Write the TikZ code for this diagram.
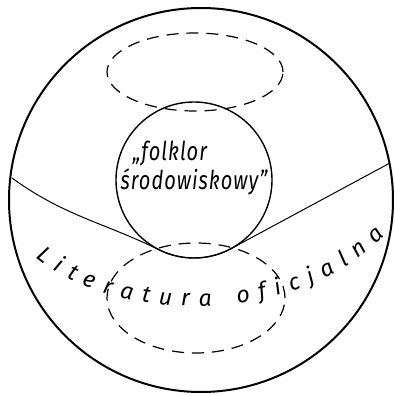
\documentclass[tikz,border=0pt]{standalone}
\usepackage{fontspec}
\newfontfamily\hand[LetterSpace=5]{Fira Sans}
\newcommand\curvefont{\hand\itshape\fontsize{23}{23}\selectfont}
\usetikzlibrary{calc,decorations.text}

\begin{document}
\begin{tikzpicture}[
    x=1pt, y=1pt,
    outer/.style={draw, line width=2pt},
    inner/.style={draw, line width=1.4pt},
    hidden/.style={draw, line width=1.2pt, dash pattern=on 12pt off 8pt},
    border/.style={draw, line width=1pt},
    label/.style={font=\hand\itshape\fontsize{20}{21}\selectfont, align=left}
]
    \useasboundingbox (0,0) rectangle (395,396);

    % the whole and the circle inside it
    \draw[outer] (201,196) circle[radius=192];
    \draw[inner] (194,216) circle[radius=78];

    % the two dashed rings, above and below
    \draw[hidden] (195,324) ellipse[x radius=88, y radius=39];
    \draw[hidden] (196,98) ellipse[x radius=89, y radius=55];

    % line between the two parts
    \coordinate (west) at (12,218);
    \coordinate (east) at (390,233);
    \draw[border] (west) to[out=-36, in=154] ($(194,216)+(244:78)$)
        arc[start angle=244, end angle=298, radius=78] -- (east);

    \node[label] (folklor) at (194,227)
        {\scalebox{1.0}[1.3]{\begin{tabular}{@{}l@{}}\hspace{12pt}„folklor\\środowiskowy”\end{tabular}}};

    \path[decorate, decoration={text along path, text align=fit to path,
        text={|\curvefont|Literatura oficjalna}}]
        (36,139) .. controls (112,74) and (290,66) .. (385,160);
\end{tikzpicture}
\end{document}
